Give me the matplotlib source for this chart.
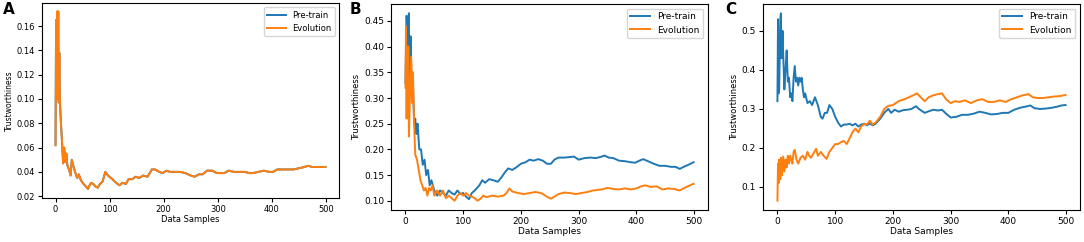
import numpy as np
import matplotlib
matplotlib.use('Agg')
import matplotlib.pyplot as plt

# ---- panel A (both curves identical, Pre-train hidden under Evolution) ----
a_x = [0, 1, 2, 3, 4, 5, 6, 7, 8, 10, 12, 14, 16, 18, 20, 22, 25, 28, 30, 33,
       36, 40, 43, 47, 52, 56, 60, 63, 66, 70, 74, 78, 82, 87, 92, 97, 105, 112,
       118, 124, 130, 135, 142, 148, 155, 162, 170, 178, 184, 192, 198, 205,
       212, 220, 230, 240, 250, 257, 265, 272, 280, 290, 298, 305, 312, 320,
       330, 340, 350, 358, 365, 375, 385, 395, 402, 410, 420, 430, 440, 450,
       460, 467, 475, 485, 492, 499]
a_evo = [0.062, 0.165, 0.100, 0.172, 0.105, 0.172, 0.097, 0.138, 0.100, 0.080,
         0.065, 0.047, 0.060, 0.048, 0.055, 0.045, 0.042, 0.037, 0.050, 0.045,
         0.040, 0.035, 0.038, 0.033, 0.030, 0.028, 0.026, 0.029, 0.031, 0.030,
         0.028, 0.027, 0.030, 0.032, 0.040, 0.037, 0.034, 0.031, 0.029, 0.031,
         0.030, 0.034, 0.034, 0.036, 0.035, 0.037, 0.036, 0.042, 0.042, 0.040,
         0.039, 0.041, 0.040, 0.040, 0.040, 0.039, 0.037, 0.036, 0.038, 0.038,
         0.041, 0.041, 0.039, 0.039, 0.039, 0.041, 0.040, 0.040, 0.040, 0.039,
         0.039, 0.040, 0.041, 0.040, 0.040, 0.042, 0.042, 0.042, 0.042, 0.043,
         0.044, 0.045, 0.044, 0.044, 0.044, 0.044]
a_pre = list(a_evo)

# ---- panel B ----
b_pre_x = [0, 2, 4, 6, 7, 9, 11, 13, 15, 17, 19, 21, 24, 27, 30, 33, 36, 39, 42,
           45, 50, 55, 60, 65, 70, 75, 80, 85, 90, 95, 100, 105, 110, 115, 120,
           128, 133, 138, 145, 152, 160, 166, 172, 178, 185, 192, 200, 208, 215,
           222, 230, 238, 245, 252, 258, 265, 275, 285, 292, 300, 310, 320, 330,
           340, 345, 352, 360, 370, 380, 390, 398, 405, 412, 420, 430, 440, 450,
           460, 468, 475, 482, 490, 499]
b_pre = [0.33, 0.46, 0.40, 0.465, 0.34, 0.42, 0.30, 0.33, 0.25, 0.26, 0.23,
         0.25, 0.20, 0.20, 0.17, 0.18, 0.15, 0.16, 0.13, 0.14, 0.12, 0.11, 0.12,
         0.115, 0.11, 0.12, 0.115, 0.112, 0.12, 0.113, 0.115, 0.108, 0.103,
         0.115, 0.12, 0.13, 0.14, 0.135, 0.142, 0.14, 0.137, 0.145, 0.155,
         0.163, 0.16, 0.165, 0.172, 0.175, 0.18, 0.178, 0.181, 0.178, 0.172,
         0.172, 0.18, 0.184, 0.184, 0.185, 0.186, 0.18, 0.183, 0.184, 0.183,
         0.186, 0.188, 0.184, 0.183, 0.178, 0.177, 0.175, 0.174, 0.178, 0.181,
         0.177, 0.172, 0.168, 0.168, 0.166, 0.166, 0.162, 0.166, 0.170, 0.175]
b_evo_x = [0, 1, 2, 3, 4, 5, 6, 8, 10, 12, 13, 15, 17, 20, 23, 26, 29, 32, 35,
           38, 41, 44, 47, 50, 55, 60, 65, 70, 75, 80, 85, 90, 95, 100, 105,
           110, 115, 120, 125, 130, 135, 140, 150, 160, 170, 175, 180, 185, 195,
           205, 215, 225, 235, 245, 252, 258, 265, 275, 285, 295, 305, 315, 325,
           340, 350, 360, 370, 380, 390, 400, 408, 415, 425, 435, 445, 455, 465,
           475, 485, 499]
b_evo = [0.32, 0.44, 0.26, 0.40, 0.34, 0.40, 0.225, 0.31, 0.38, 0.29, 0.35,
         0.25, 0.19, 0.18, 0.16, 0.14, 0.13, 0.12, 0.125, 0.11, 0.125, 0.12,
         0.13, 0.11, 0.12, 0.11, 0.12, 0.105, 0.11, 0.105, 0.10, 0.11, 0.115,
         0.11, 0.115, 0.11, 0.108, 0.105, 0.100, 0.104, 0.11, 0.107, 0.11,
         0.108, 0.11, 0.115, 0.124, 0.118, 0.115, 0.113, 0.115, 0.117, 0.115,
         0.108, 0.104, 0.108, 0.113, 0.116, 0.115, 0.113, 0.115, 0.117, 0.120,
         0.122, 0.125, 0.123, 0.122, 0.124, 0.122, 0.124, 0.128, 0.130, 0.127,
         0.128, 0.122, 0.124, 0.123, 0.120, 0.126, 0.133]

# ---- panel C ----
c_pre_x = [0, 1, 2, 3, 5, 6, 7, 9, 10, 12, 14, 16, 18, 20, 22, 24, 26, 28, 30,
           32, 34, 36, 38, 40, 42, 44, 46, 48, 52, 56, 60, 65, 70, 75, 78, 82,
           86, 90, 95, 100, 105, 110, 115, 120, 125, 130, 135, 140, 145, 150,
           155, 160, 165, 170, 178, 185, 192, 197, 203, 210, 218, 225, 232, 240,
           245, 255, 262, 270, 278, 285, 292, 300, 310, 320, 330, 340, 350, 360,
           370, 380, 390, 400, 410, 420, 430, 438, 445, 455, 465, 475, 485, 492,
           499]
c_pre = [0.32, 0.53, 0.34, 0.35, 0.53, 0.545, 0.43, 0.50, 0.44, 0.35, 0.40,
         0.45, 0.37, 0.38, 0.33, 0.34, 0.32, 0.38, 0.41, 0.37, 0.38, 0.36, 0.38,
         0.37, 0.38, 0.35, 0.33, 0.34, 0.315, 0.32, 0.31, 0.33, 0.31, 0.28,
         0.275, 0.29, 0.29, 0.31, 0.30, 0.28, 0.265, 0.255, 0.26, 0.26, 0.262,
         0.258, 0.262, 0.255, 0.26, 0.262, 0.258, 0.263, 0.258, 0.262, 0.275,
         0.29, 0.30, 0.29, 0.298, 0.293, 0.297, 0.298, 0.300, 0.307, 0.30, 0.29,
         0.294, 0.298, 0.296, 0.298, 0.288, 0.278, 0.28, 0.285, 0.285, 0.288,
         0.293, 0.29, 0.286, 0.287, 0.29, 0.29, 0.298, 0.303, 0.306, 0.309,
         0.302, 0.300, 0.301, 0.303, 0.306, 0.309, 0.310]
c_evo_x = [0, 1, 2, 3, 5, 6, 8, 10, 12, 14, 16, 18, 20, 22, 24, 26, 28, 30, 33,
           36, 40, 44, 48, 52, 55, 58, 62, 67, 70, 75, 80, 85, 90, 95, 100, 105,
           110, 115, 120, 125, 130, 135, 140, 145, 150, 155, 160, 165, 170, 178,
           185, 192, 200, 210, 220, 228, 235, 242, 248, 255, 262, 270, 278, 285,
           292, 300, 308, 315, 325, 335, 345, 355, 365, 375, 385, 395, 405, 415,
           425, 435, 442, 450, 460, 470, 480, 490, 499]
c_evo = [0.065, 0.16, 0.11, 0.17, 0.12, 0.175, 0.13, 0.178, 0.14, 0.17, 0.15,
         0.18, 0.16, 0.18, 0.17, 0.16, 0.19, 0.195, 0.17, 0.16, 0.175, 0.18,
         0.17, 0.19, 0.18, 0.175, 0.185, 0.198, 0.18, 0.19, 0.18, 0.172, 0.19,
         0.20, 0.21, 0.21, 0.215, 0.218, 0.21, 0.225, 0.24, 0.25, 0.24, 0.255,
         0.262, 0.26, 0.27, 0.26, 0.265, 0.28, 0.30, 0.308, 0.31, 0.32, 0.325,
         0.33, 0.335, 0.34, 0.33, 0.32, 0.33, 0.335, 0.338, 0.34, 0.325, 0.315,
         0.32, 0.318, 0.322, 0.315, 0.322, 0.325, 0.318, 0.318, 0.322, 0.318,
         0.325, 0.33, 0.335, 0.338, 0.33, 0.328, 0.328, 0.33, 0.332, 0.333,
         0.336]

W, H = 1084, 242
fig = plt.figure(figsize=(W / 100, H / 100), dpi=100)


def add_ax(left, right, top, bottom):
    # pixel box (top-left origin) -> figure fraction
    return fig.add_axes([left / W, 1 - bottom / H, (right - left) / W, (bottom - top) / H])


panels = [
    ('A', add_ax(42, 339, 3, 198), a_x, a_pre, a_x, a_evo, (0.0185, 0.179), 3, 6),
    ('B', add_ax(391, 708, 4, 210), b_pre_x, b_pre, b_evo_x, b_evo, (0.082, 0.483), 350, 6.5),
    ('C', add_ax(763, 1080, 4, 210), c_pre_x, c_pre, c_evo_x, c_evo, (0.041, 0.569), 725, 6.5),
]

for letter, ax, px, py, ex, ey, ylim, lx, fs in panels:
    ax.plot(px, py, color='tab:blue', lw=1.4, label='Pre-train')
    ax.plot(ex, ey, color='tab:orange', lw=1.4, label='Evolution')
    ax.set_xlim(-25, 524)
    ax.set_ylim(*ylim)
    ax.set_xticks([0, 100, 200, 300, 400, 500])
    ax.tick_params(labelsize=fs, length=3, pad=2)
    ax.set_xlabel('Data Samples', fontsize=fs, labelpad=1)
    ax.set_ylabel('Trustworthiness', fontsize=fs - 0.5, labelpad=2)
    ax.legend(loc='upper right', fontsize=fs, handlelength=2.2)
    fig.text(lx / W, 1 - 2 / H, letter, fontsize=11, fontweight='bold', va='top', ha='left')

fig.savefig('out.png', dpi=100)
